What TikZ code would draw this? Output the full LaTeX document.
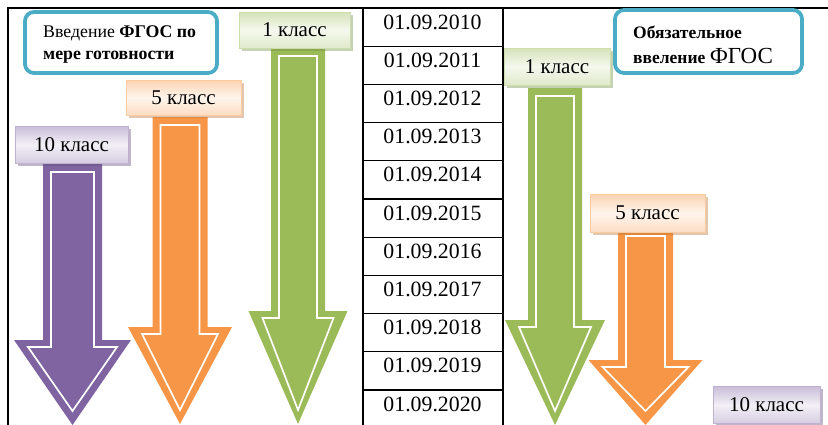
\documentclass[tikz,border=0pt]{standalone}
\usepackage{fontspec}
\setmainfont{Liberation Serif}
\usetikzlibrary{shadows}

\definecolor{purp}{HTML}{8064A2}
\definecolor{oran}{HTML}{F79646}
\definecolor{gren}{HTML}{9BBB59}
\definecolor{aqua}{HTML}{4BACC6}

\tikzset{
  frameline/.style={line width=1.3pt},
  gridline/.style={line width=1.1pt},
  datecell/.style={font=\fontsize{21.8}{24}\selectfont, anchor=base, inner sep=0pt},
  classlabel/.style={rectangle, draw=#1!50, line width=0.6pt,
    top color=#1!42, bottom color=#1!32, middle color=#1!10,
    font=\fontsize{21}{24}\selectfont, inner sep=0pt,
    drop shadow={shadow xshift=2.5pt, shadow yshift=-2.5pt, fill=#1!75!black, opacity=.4}},
  notebox/.style={rectangle, draw=aqua, line width=3.8pt, rounded corners=9pt, fill=white, inner sep=0pt},
  notetext/.style={anchor=base west, inner sep=0pt, font=\fontsize{17.8}{20}\selectfont},
  arrowrim/.style={white, line width=1.7pt, line join=miter},
}

% Block arrow pointing down with an inset white rim.
% #1 colour, #2 centre x, #3 top y, #4 half body width,
% #5 y of the head shoulders, #6 half head width, #7 tip y
\newcommand\blockdownarrow[7]{%
  \fill[#1] ({#2-#4},#3) -- ({#2+#4},#3) -- ({#2+#4},#5) -- ({#2+#6},#5)
    -- (#2,#7) -- ({#2-#6},#5) -- ({#2-#4},#5) -- cycle;
  \draw[arrowrim] ({#2-#4+8},{#3+8}) -- ({#2+#4-8},{#3+8}) -- ({#2+#4-8},{#5+7})
    -- ({#2+#6-14},{#5+7}) -- (#2,{#7-14}) -- ({#2-#6+14},{#5+7})
    -- ({#2-#4+8},{#5+7}) -- cycle;
}

\begin{document}
\begin{tikzpicture}[x=1pt, y=-1pt]
  \useasboundingbox (0,0) rectangle (828,424);

  % outer frame (left and top rules)
  \draw[frameline] (8,426) -- (8,8) -- (828,8);

  % table of dates
  \draw[gridline] (363,8) -- (363,426);
  \draw[gridline] (503,8) -- (503,426);
  \foreach \k in {1,...,10}
    \draw[gridline] (363,{8+38.2*\k}) -- (503,{8+38.2*\k});
  \foreach \k in {0,...,10} {
    \pgfmathtruncatemacro\yr{2010+\k}
    \node[datecell] (d\yr) at (432.5,{8+38.2*\k+21}) {01.09.\yr};
  }

  % left group: introduction when ready
  \blockdownarrow{purp}{72.5}{164}{29.5}{340}{58.5}{425}
  \blockdownarrow{oran}{180}{117}{27.5}{327}{52}{424}
  \blockdownarrow{gren}{298}{48}{27}{311}{49.5}{424}

  \node[classlabel=purp, minimum width=113pt, minimum height=37pt] (l10) at (71.5,144.5) {10 класс};
  \node[classlabel=oran, minimum width=115pt, minimum height=35pt] (l5) at (183.5,97.5) {5 класс};
  \node[classlabel=gren, minimum width=111pt, minimum height=36pt] (l1) at (294.5,30) {1 класс};

  \node[notebox, minimum width=192pt, minimum height=61pt] (lnote) at (121,42.5) {};
  \node[notetext] (lnote1) at (43,37) {Введение \textbf{ФГОС по}};
  \node[notetext] (lnote2) at (43,59) {\textbf{мере готовности}};

  % right group: mandatory introduction
  \blockdownarrow{gren}{555}{88}{27}{320}{50}{425}
  \blockdownarrow{oran}{645.5}{228}{27.5}{360}{57}{425}

  \node[classlabel=gren, minimum width=106pt, minimum height=37pt] (r1) at (557,66.5) {1 класс};
  \node[classlabel=oran, minimum width=115pt, minimum height=38pt] (r5) at (647.5,213) {5 класс};
  \node[classlabel=purp, minimum width=107pt, minimum height=37pt] (r10) at (766.5,405) {10 класс};

  \node[notebox, minimum width=187pt, minimum height=63pt] (rnote) at (708.5,41.5) {};
  \node[notetext, font=\fontsize{17.5}{20}\selectfont] (rnote1) at (633,38) {\textbf{Обязательное}};
  \node[notetext, font=\fontsize{17.5}{20}\selectfont] (rnote2) at (633,63) {\textbf{ввеление} {\fontsize{23}{24}\selectfont ФГОС}};
\end{tikzpicture}
\end{document}
